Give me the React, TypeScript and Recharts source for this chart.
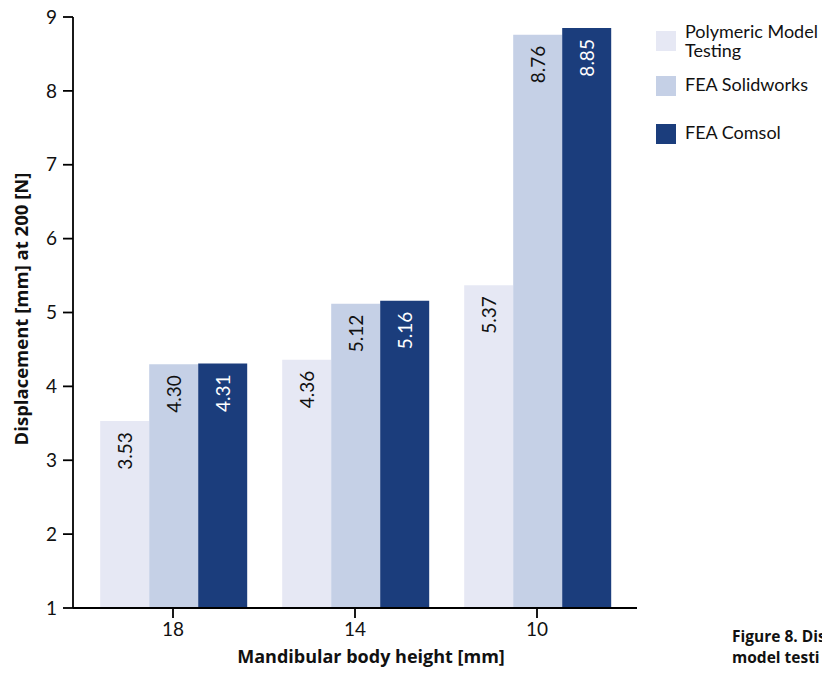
import React from 'react';
import { BarChart, Bar, XAxis, YAxis } from 'recharts';

const categories = ['18', '14', '10'];
const polymeric = [3.53, 4.36, 5.37];
const solidworks = [4.3, 5.12, 8.76];
const comsol = [4.31, 5.16, 8.85];
const yTicks = [1, 2, 3, 4, 5, 6, 7, 8, 9];

const data = categories.map((name, i) => ({
  name,
  polymeric: polymeric[i],
  solidworks: solidworks[i],
  comsol: comsol[i],
}));

const FONT = 'Lato, "Open Sans", sans-serif';
const BOLD_FONT = '"Open Sans", Lato, sans-serif';

const series = [
  { key: 'polymeric', name: 'Polymeric Model Testing', color: '#e6e8f4', text: '#111' },
  { key: 'solidworks', name: 'FEA Solidworks', color: '#c5d0e6', text: '#111' },
  { key: 'comsol', name: 'FEA Comsol', color: '#1b3d7c', text: '#fff' },
];

const makeLabel = (fill: string) => (props: any) => {
  const { x, y, width, value } = props;
  const cx = x + width / 2;
  const ty = y + 11;
  return (
    <text
      x={cx}
      y={ty}
      transform={`rotate(-90 ${cx} ${ty})`}
      textAnchor="end"
      dominantBaseline="central"
      fill={fill}
      fontSize={19}
      fontFamily={FONT}
    >
      {Number(value).toFixed(2)}
    </text>
  );
};

// legend drawn as an overlay so it does not eat into the plot width
const LegendBox = () => (
  <div style={{ position: 'absolute', left: 656, top: 25, fontFamily: FONT, fontSize: 18, color: '#111' }}>
    <div style={{ position: 'absolute', left: 0, top: 6, width: 20, height: 20, background: series[0].color }} />
    <div style={{ position: 'absolute', left: 29, top: -3, lineHeight: '19px', whiteSpace: 'nowrap' }}>Polymeric Model</div>
    <div style={{ position: 'absolute', left: 29, top: 16, lineHeight: '19px', whiteSpace: 'nowrap' }}>Testing</div>
    <div style={{ position: 'absolute', left: 0, top: 51, width: 20, height: 20, background: series[1].color }} />
    <div style={{ position: 'absolute', left: 29, top: 50, lineHeight: '19px', whiteSpace: 'nowrap' }}>FEA Solidworks</div>
    <div style={{ position: 'absolute', left: 0, top: 99, width: 20, height: 20, background: series[2].color }} />
    <div style={{ position: 'absolute', left: 29, top: 98, lineHeight: '19px', whiteSpace: 'nowrap' }}>FEA Comsol</div>
  </div>
);

export default function App() {
  const axisStyle = { stroke: '#000', strokeWidth: 1.8 };
  return (
    <div style={{ position: 'relative', width: 830, height: 675, margin: -8, overflow: 'hidden', background: '#fff' }}>
      <BarChart
        width={830}
        height={675}
        data={data}
        margin={{ top: 17, right: 193, left: 0, bottom: 0 }}
        barCategoryGap="10%"
        barGap={0}
      >
        <XAxis
          dataKey="name"
          height={67}
          padding={{ left: 9, right: 9 }}
          axisLine={axisStyle}
          tickLine={axisStyle}
          tickSize={10}
          tickMargin={5}
          tick={{ fill: '#111', fontSize: 19, fontFamily: FONT }}
          label={() => (
            <text
              x={371}
              y={663}
              textAnchor="middle"
              fill="#111"
              fontSize={18}
              fontWeight="bold"
              fontFamily={BOLD_FONT}
            >
              Mandibular body height [mm]
            </text>
          )}
        />
        <XAxis xAxisId="top" dataKey="name" orientation="top" height={0} tick={false} tickLine={false} axisLine={axisStyle} />
        <YAxis
          width={73}
          domain={[1, 9]}
          ticks={yTicks}
          interval={0}
          axisLine={axisStyle}
          tickLine={axisStyle}
          tickSize={10}
          tickMargin={6}
          tick={{ fill: '#111', fontSize: 19, fontFamily: FONT }}
          label={() => (
            <text
              x={20}
              y={309}
              transform="rotate(-90 20 309)"
              textAnchor="middle"
              dominantBaseline="central"
              fill="#111"
              fontSize={18.5}
              fontWeight="bold"
              fontFamily={BOLD_FONT}
            >
              Displacement [mm] at 200 [N]
            </text>
          )}
        />
        <YAxis yAxisId="right" orientation="right" width={0} domain={[1, 9]} tick={false} tickLine={false} axisLine={axisStyle} />
        {series.map((s) => (
          <Bar
            key={s.key}
            dataKey={s.key}
            name={s.name}
            fill={s.color}
            isAnimationActive={false}
            label={makeLabel(s.text)}
          />
        ))}
      </BarChart>
      <LegendBox />
      <div
        style={{
          position: 'absolute',
          left: 732,
          top: 626,
          fontFamily: BOLD_FONT,
          fontWeight: 'bold',
          fontSize: 15.5,
          lineHeight: '21px',
          color: '#111',
          whiteSpace: 'nowrap',
        }}
      >
        Figure 8. Dis
        <br />
        model testi
      </div>
    </div>
  );
}
